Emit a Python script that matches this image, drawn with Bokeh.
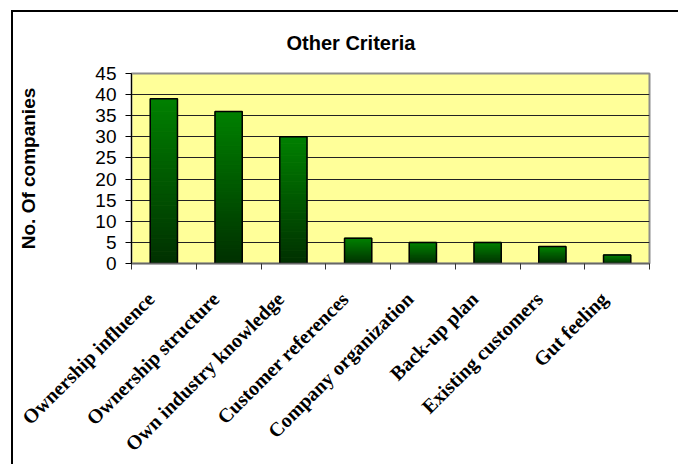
from math import pi

from bokeh.embed import file_html
from bokeh.models import ColumnDataSource, FixedTicker, Range1d
from bokeh.plotting import figure
from bokeh.resources import INLINE

# Survey results: how many companies named each criterion
categories = [
    "Ownership influence",
    "Ownership structure",
    "Own industry knowledge",
    "Customer references",
    "Company organization",
    "Back-up plan",
    "Existing customers",
    "Gut feeling",
]
companies = [39, 36, 30, 6, 5, 5, 4, 2]
y_ticks = [0, 5, 10, 15, 20, 25, 30, 35, 40, 45]

TOP_GREEN = (0, 128, 0)
BOTTOM_GREEN = (0, 48, 0)
SLICES = 40
BAR_HALF = 0.21
LABEL_SHIFT = 0.2  # rotated labels end slightly left of the category centre

centers = [i + 0.5 for i in range(len(categories))]
boundaries = list(range(len(categories) + 1))
label_pos = [c - LABEL_SHIFT for c in centers]

p = figure(
    width=667,
    height=454,
    x_range=Range1d(0, len(categories)),
    y_range=Range1d(0, 45),
    output_backend="svg",
    toolbar_location=None,
    min_border_left=118,
    min_border_right=31,
    min_border_top=61,
    min_border_bottom=203,
    title="Other Criteria",
    styles={
        "margin-left": "11px",
        "margin-top": "10px",
        "border-left": "2px solid black",
        "border-top": "2px solid black",
    },
)
p.background_fill_color = "#FFFF99"
p.border_fill_color = "white"
p.outline_line_color = "#8c8c8c"
p.outline_line_width = 2

p.title.align = "left"
p.title.offset = 155
p.title.standoff = 35
p.title.vertical_align = "top"
p.title.text_font = "Liberation Sans"
p.title.text_font_style = "bold"
p.title.text_font_size = "20px"
p.title.text_color = "black"


def mix(t):
    r = [round(b + (a - b) * t) for a, b in zip(TOP_GREEN, BOTTOM_GREEN)]
    return "#%02x%02x%02x" % tuple(r)


# Vertical gradient inside every bar, built from thin stacked slices
left, right, bottom, top, color = [], [], [], [], []
for x, v in zip(centers, companies):
    for k in range(SLICES):
        left.append(x - BAR_HALF)
        right.append(x + BAR_HALF)
        bottom.append(v * k / SLICES)
        top.append(v * (k + 1) / SLICES)
        color.append(mix((k + 0.5) / SLICES))
grad = ColumnDataSource(dict(left=left, right=right, bottom=bottom, top=top, color=color))
p.quad(left="left", right="right", bottom="bottom", top="top", fill_color="color",
       line_color="color", line_width=1, source=grad)

bars = ColumnDataSource(dict(
    left=[x - BAR_HALF for x in centers],
    right=[x + BAR_HALF for x in centers],
    top=companies,
))
p.quad(left="left", right="right", bottom=0, top="top", fill_color=None,
       line_color="black", line_width=1.5, source=bars)

# grid
p.xgrid.visible = False
p.ygrid.ticker = FixedTicker(ticks=y_ticks)
p.ygrid.grid_line_color = "#222222"
p.ygrid.grid_line_width = 1

# x axis: labels under the categories, tick marks between categories
xa = p.xaxis[0]
xa.ticker = FixedTicker(ticks=label_pos, minor_ticks=boundaries)
xa.major_label_overrides = {c: name for c, name in zip(label_pos, categories)}
xa.major_label_orientation = pi / 4
xa.major_tick_out = 0
xa.major_tick_in = 0
xa.minor_tick_out = 6
xa.minor_tick_in = 0
xa.minor_tick_line_color = "#333333"
xa.axis_line_color = "#666666"
xa.axis_line_width = 1.5
xa.major_label_standoff = 26
xa.major_label_text_font = "Liberation Serif"
xa.major_label_text_font_style = "bold"
xa.major_label_text_font_size = "20px"
xa.major_label_text_color = "black"

# y axis
ya = p.yaxis[0]
ya.ticker = FixedTicker(ticks=y_ticks, minor_ticks=[])
ya.major_tick_out = 6
ya.major_tick_in = 0
ya.major_tick_line_color = "black"
ya.axis_line_color = "black"
ya.major_label_standoff = 9
ya.major_label_text_font = "Liberation Sans"
ya.major_label_text_font_size = "19px"
ya.major_label_text_color = "black"
ya.axis_label = "No. Of companies"
ya.axis_label_text_font = "Liberation Sans"
ya.axis_label_text_font_style = "bold"
ya.axis_label_text_font_size = "19px"
ya.axis_label_text_color = "black"
ya.axis_label_standoff = 53

open("out.html", "w").write(file_html(p, INLINE))
